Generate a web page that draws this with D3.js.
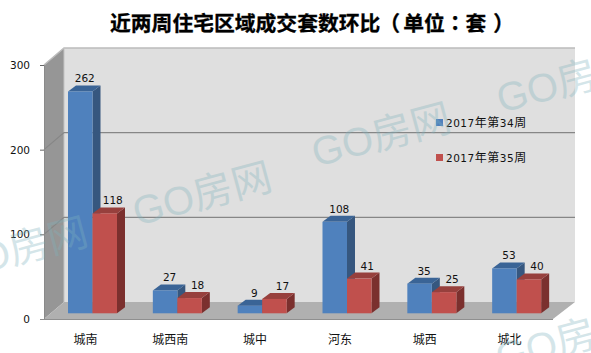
<!DOCTYPE html>
<html>
<head>
<meta charset="utf-8">
<script src="https://cdn.jsdelivr.net/npm/d3@7"></script>
<style>
  html, body { margin: 0; padding: 0; background: #fff; }
  svg { display: block; }
  text { font-family: "DejaVu Sans", sans-serif; fill: #111; }
  .cjk { font-family: "Noto Sans CJK SC", sans-serif; }
</style>
</head>
<body>
<div id="chart"></div>
<script>
// chart values
const categories = ["城南", "城西南", "城中", "河东", "城西", "城北"];
const seriesNames = ["2017年第34周", "2017年第35周"];
const week34 = [262, 27, 9, 108, 35, 53];
const week35 = [118, 18, 17, 41, 25, 40];
const yTicks = [0, 100, 200, 300];
const titleText = "近两周住宅区域成交套数环比（单位：套）";
const watermarkText = "GO房网";

const width = 591, height = 353;

// front plane of the 3d box, the back wall is shifted by wallDx / wallDy
const front = { left: 44, right: 553, top: 65, bottom: 319 };
const wallDx = 20, wallDy = -17;
// bars stand a bit in front of the back wall
const barBase = 313.3, barDx = 8, barDy = -6;

const colors = [
  { front: "#4f81bd", side: "#36577f", top: "#3a6496" },
  { front: "#c0504d", side: "#7b302e", top: "#97403d" }
];

const svg = d3.select("#chart").append("svg")
  .attr("width", width)
  .attr("height", height);

const x0 = d3.scaleBand().domain(categories).range([front.left, front.right]);
const x1 = d3.scaleBand().domain([0, 1]).range([24, 73]);
const y = d3.scaleLinear().domain([0, 300]).range([front.bottom, front.top]);

const line = d3.line();
const poly = pts => line(pts) + "Z";

// back wall
svg.append("path")
  .attr("d", poly([
    [front.left + wallDx, front.top + wallDy],
    [front.right + 22, front.top + wallDy],
    [front.right + 22, front.bottom + wallDy],
    [front.left + wallDx, front.bottom + wallDy]
  ]))
  .attr("fill", "#dfdfdf");

// left wall
svg.append("path")
  .attr("d", poly([
    [front.left, front.top],
    [front.left + wallDx, front.top + wallDy],
    [front.left + wallDx, front.bottom + wallDy],
    [front.left, front.bottom]
  ]))
  .attr("fill", "#969696");

// floor
svg.append("path")
  .attr("d", poly([
    [front.left, front.bottom],
    [front.left + wallDx, front.bottom + wallDy],
    [front.right + 22, front.bottom + wallDy],
    [front.right, front.bottom]
  ]))
  .attr("fill", "#b0b0b0");

// top edge of the wall
svg.append("path")
  .attr("d", line([
    [front.left, front.top],
    [front.left + wallDx, front.top + wallDy],
    [front.right + 22, front.top + wallDy]
  ]))
  .attr("fill", "none")
  .attr("stroke", "#bcbcbc")
  .attr("stroke-width", 1.5);

svg.append("line")
  .attr("x1", front.left + wallDx).attr("x2", front.left + wallDx)
  .attr("y1", front.top + wallDy).attr("y2", front.bottom + wallDy)
  .attr("stroke", "#c4c4c4");

// gridlines, they bend at the corner of the box
svg.append("g").selectAll("path")
  .data(yTicks.filter(d => d > 0 && d < 300))
  .enter()
  .append("path")
  .attr("d", d => line([
    [front.left, y(d)],
    [front.left + wallDx, y(d) + wallDy],
    [front.right + 22, y(d) + wallDy]
  ]))
  .attr("fill", "none")
  .attr("stroke", "#868686")
  .attr("stroke-width", 1.2);

// axis
const yAxis = d3.axisLeft(y).tickValues(yTicks).tickSize(4).tickPadding(10);
const axisG = svg.append("g")
  .attr("transform", "translate(" + front.left + ",0)")
  .call(yAxis);
axisG.select(".domain").attr("stroke", "#8a8a8a");
axisG.selectAll(".tick line").attr("stroke", "#666");
axisG.selectAll("text").style("font-family", '"DejaVu Sans", sans-serif').style("font-size", "10.5px").attr("fill", "#111");

svg.append("line")
  .attr("x1", front.left - 4).attr("x2", front.right)
  .attr("y1", front.bottom + 0.5).attr("y2", front.bottom + 0.5)
  .attr("stroke", "#8f8f8f");

// bars: one group per category, blue first so the red front covers its side
const barH = v => y(0) - y(v);
const groups = svg.selectAll(".group")
  .data(categories)
  .enter()
  .append("g")
  .attr("class", "group")
  .attr("transform", d => "translate(" + x0(d) + ",0)");

groups.each(function(cat, i) {
  const g = d3.select(this);
  [week34[i], week35[i]].forEach((v, s) => {
    const left = x1(s), right = left + x1.bandwidth();
    const top = barBase - barH(v);
    const c = colors[s];
    g.append("path")
      .attr("d", poly([[right, top], [right + barDx, top + barDy], [right + barDx, barBase + barDy], [right, barBase]]))
      .attr("fill", c.side);
    g.append("path")
      .attr("d", poly([[left, top], [left + barDx, top + barDy], [right + barDx, top + barDy], [right, top]]))
      .attr("fill", c.top);
    g.append("rect")
      .attr("x", left)
      .attr("y", top)
      .attr("width", x1.bandwidth())
      .attr("height", barH(v))
      .attr("fill", c.front);
  });
});

// value labels go on top so nothing covers them
groups.each(function(cat, i) {
  const g = d3.select(this);
  [week34[i], week35[i]].forEach((v, s) => {
    g.append("text")
      .attr("x", x1(s) + x1.bandwidth() / 2 + (s === 0 ? 4.5 : 8))
      .attr("y", barBase - barH(v) + barDy - 3)
      .attr("text-anchor", "middle")
      .style("font-size", "10.5px")
      .text(v);
  });
});

// category labels
svg.selectAll(".cat")
  .data(categories)
  .enter()
  .append("text")
  .attr("class", "cjk cat")
  .attr("x", d => x0(d) + x0.bandwidth() / 2 - 1)
  .attr("y", 344)
  .attr("text-anchor", "middle")
  .style("font-size", "12px")
  .text(d => d);

// legend
const legend = svg.selectAll(".legend")
  .data(seriesNames)
  .enter()
  .append("g")
  .attr("class", "legend")
  .attr("transform", (d, i) => "translate(436," + (119 + i * 35) + ")");

legend.append("rect")
  .attr("width", 7)
  .attr("height", 7)
  .attr("fill", (d, i) => colors[i].front);

// digits are a smaller latin face than the han characters in the legend
const legendText = legend.append("text")
  .attr("x", 10)
  .attr("y", 8)
  .style("letter-spacing", "0.5px");

legendText.selectAll("tspan")
  .data(d => d.match(/\d+|\D+/g))
  .enter()
  .append("tspan")
  .style("font-family", d => /\d/.test(d) ? '"DejaVu Sans", sans-serif' : '"Noto Sans CJK SC", sans-serif')
  .style("font-size", d => /\d/.test(d) ? "10.5px" : "12px")
  .text(d => d);

// title, the brackets sit in the middle of their cells so nudge the runs around them
svg.append("text")
  .attr("x", 110)
  .attr("y", 31)
  .style("font-size", "20.8px")
  .style("font-weight", "700")
  .style("fill", "#000")
  .style("stroke", "#000")
  .style("stroke-width", "0.3px")
  .selectAll("tspan")
  .data(titleText.match(/[（）：]|[^（）：]+/g))
  .enter()
  .append("tspan")
  .attr("dx", d => d === "（" ? -1 : d === "单位" ? 3 : d === "）" ? 7 : 0)
  .style("font-family", d => /[（）：]/.test(d) ? '"Noto Sans CJK TC", sans-serif' : '"Noto Sans CJK SC", sans-serif')
  .text(d => d);

// watermark repeated across the picture
const marks = [[-47, 281], [137, 226], [316, 167], [501, 113], [500, 372]];
svg.selectAll(".mark")
  .data(marks)
  .enter()
  .append("text")
  .attr("class", "mark")
  .attr("transform", d => "translate(" + d[0] + "," + d[1] + ") rotate(-15)")
  .style("font-family", '"Liberation Sans", "Noto Sans CJK SC", sans-serif')
  .style("font-size", "40px")
  .style("fill", "#7fb3bd")
  .style("opacity", 0.33)
  .text(watermarkText);
</script>
</body>
</html>
